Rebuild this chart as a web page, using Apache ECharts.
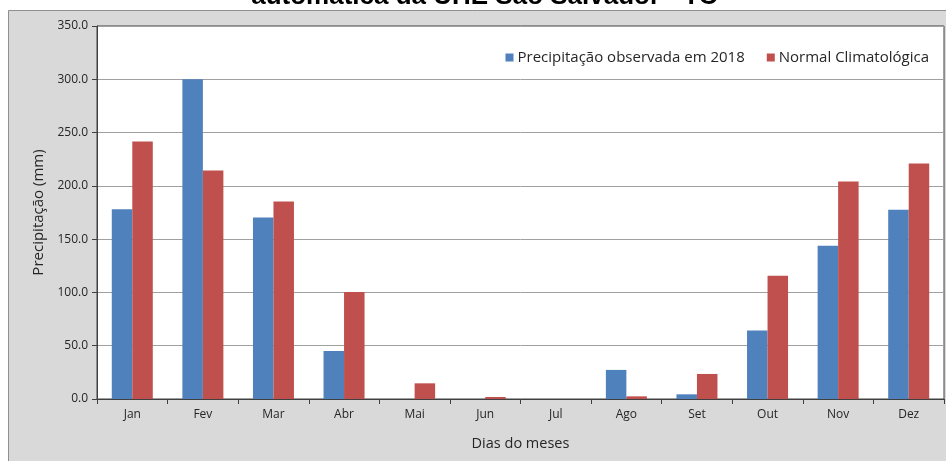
<!DOCTYPE html>
<html>
<head>
<meta charset="utf-8">
<script src="https://cdn.jsdelivr.net/npm/echarts@6/dist/echarts.min.js"></script>
<style>
  html, body { margin: 0; padding: 0; background: #ffffff; }
  #chart { width: 946px; height: 461px; }
</style>
</head>
<body>
<div id="chart"></div>
<script>
// Monthly rainfall at the São Salvador station (mm)
const months = ['Jan', 'Fev', 'Mar', 'Abr', 'Mai', 'Jun', 'Jul', 'Ago', 'Set', 'Out', 'Nov', 'Dez'];
const observed2018 = [178.0, 300.0, 170.4, 45.0, 0, 0, 0, 27.3, 4.4, 64.2, 143.8, 177.6];
const climateNormal = [241.7, 214.5, 185.4, 100.3, 14.7, 1.9, 0, 2.5, 23.5, 115.6, 204.2, 220.9];
const seriesNames = ['Precipitação observada em 2018', 'Normal Climatológica'];
const yTicks = { min: 0, max: 350, step: 50 };

const font = '"Open Sans", "Noto Sans", sans-serif';
const chart = echarts.init(document.getElementById('chart'), null, { renderer: 'canvas' });

chart.setOption({
  animation: false,
  backgroundColor: '#ffffff',
  graphic: [
    {
      type: 'rect',
      z: -10,
      silent: true,
      shape: { x: 8.5, y: 10.5, width: 950, height: 460 },
      style: { fill: '#d9d9d9', stroke: '#8f8f8f', lineWidth: 1 }
    },
    {
      type: 'text',
      z: 10,
      silent: true,
      style: {
        text: 'automática da UHE São Salvador - TO',
        x: 485, y: 10,
        align: 'center',
        verticalAlign: 'bottom',
        font: 'bold 26px "Liberation Sans", Arial, sans-serif',
        fill: '#000000'
      }
    }
  ],
  legend: {
    top: 45,
    right: 12,
    itemWidth: 8,
    itemHeight: 8,
    itemGap: 22,
    icon: 'rect',
    textStyle: { fontFamily: font, fontSize: 15, color: '#262626', padding: [0, 0, 0, -1] },
    data: seriesNames
  },
  grid: {
    left: 97,
    right: 2,
    top: 26,
    bottom: 62,
    show: true,
    backgroundColor: '#ffffff',
    borderColor: '#404040',
    borderWidth: 1
  },
  xAxis: {
    type: 'category',
    data: months,
    name: 'Dias do meses',
    nameLocation: 'middle',
    nameGap: 37,
    nameTextStyle: { fontFamily: font, fontSize: 14.5, color: '#262626' },
    axisLine: { lineStyle: { color: '#404040', width: 1 } },
    axisTick: { show: true, length: 5, lineStyle: { color: '#404040' } },
    axisLabel: { fontFamily: font, fontSize: 12, color: '#262626', margin: 10 }
  },
  yAxis: {
    type: 'value',
    min: yTicks.min,
    max: yTicks.max,
    interval: yTicks.step,
    name: 'Precipitação (mm)',
    nameLocation: 'middle',
    nameGap: 50,
    nameTextStyle: { fontFamily: font, fontSize: 15, color: '#262626' },
    axisLine: { show: true, lineStyle: { color: '#404040', width: 1 } },
    axisTick: { show: true, length: 5, lineStyle: { color: '#404040' } },
    axisLabel: {
      fontFamily: font, fontSize: 12, color: '#262626', margin: 9,
      formatter: v => v.toFixed(1)
    },
    splitLine: { show: true, lineStyle: { color: '#a0a0a0', width: 1 } }
  },
  series: [
    {
      name: seriesNames[0],
      type: 'bar',
      data: observed2018,
      barWidth: 20.5,
      barGap: '0%',
      itemStyle: { color: '#4f81bd' }
    },
    {
      name: seriesNames[1],
      type: 'bar',
      data: climateNormal,
      barWidth: 20.5,
      itemStyle: { color: '#c0504d' }
    }
  ]
});
</script>
</body>
</html>
